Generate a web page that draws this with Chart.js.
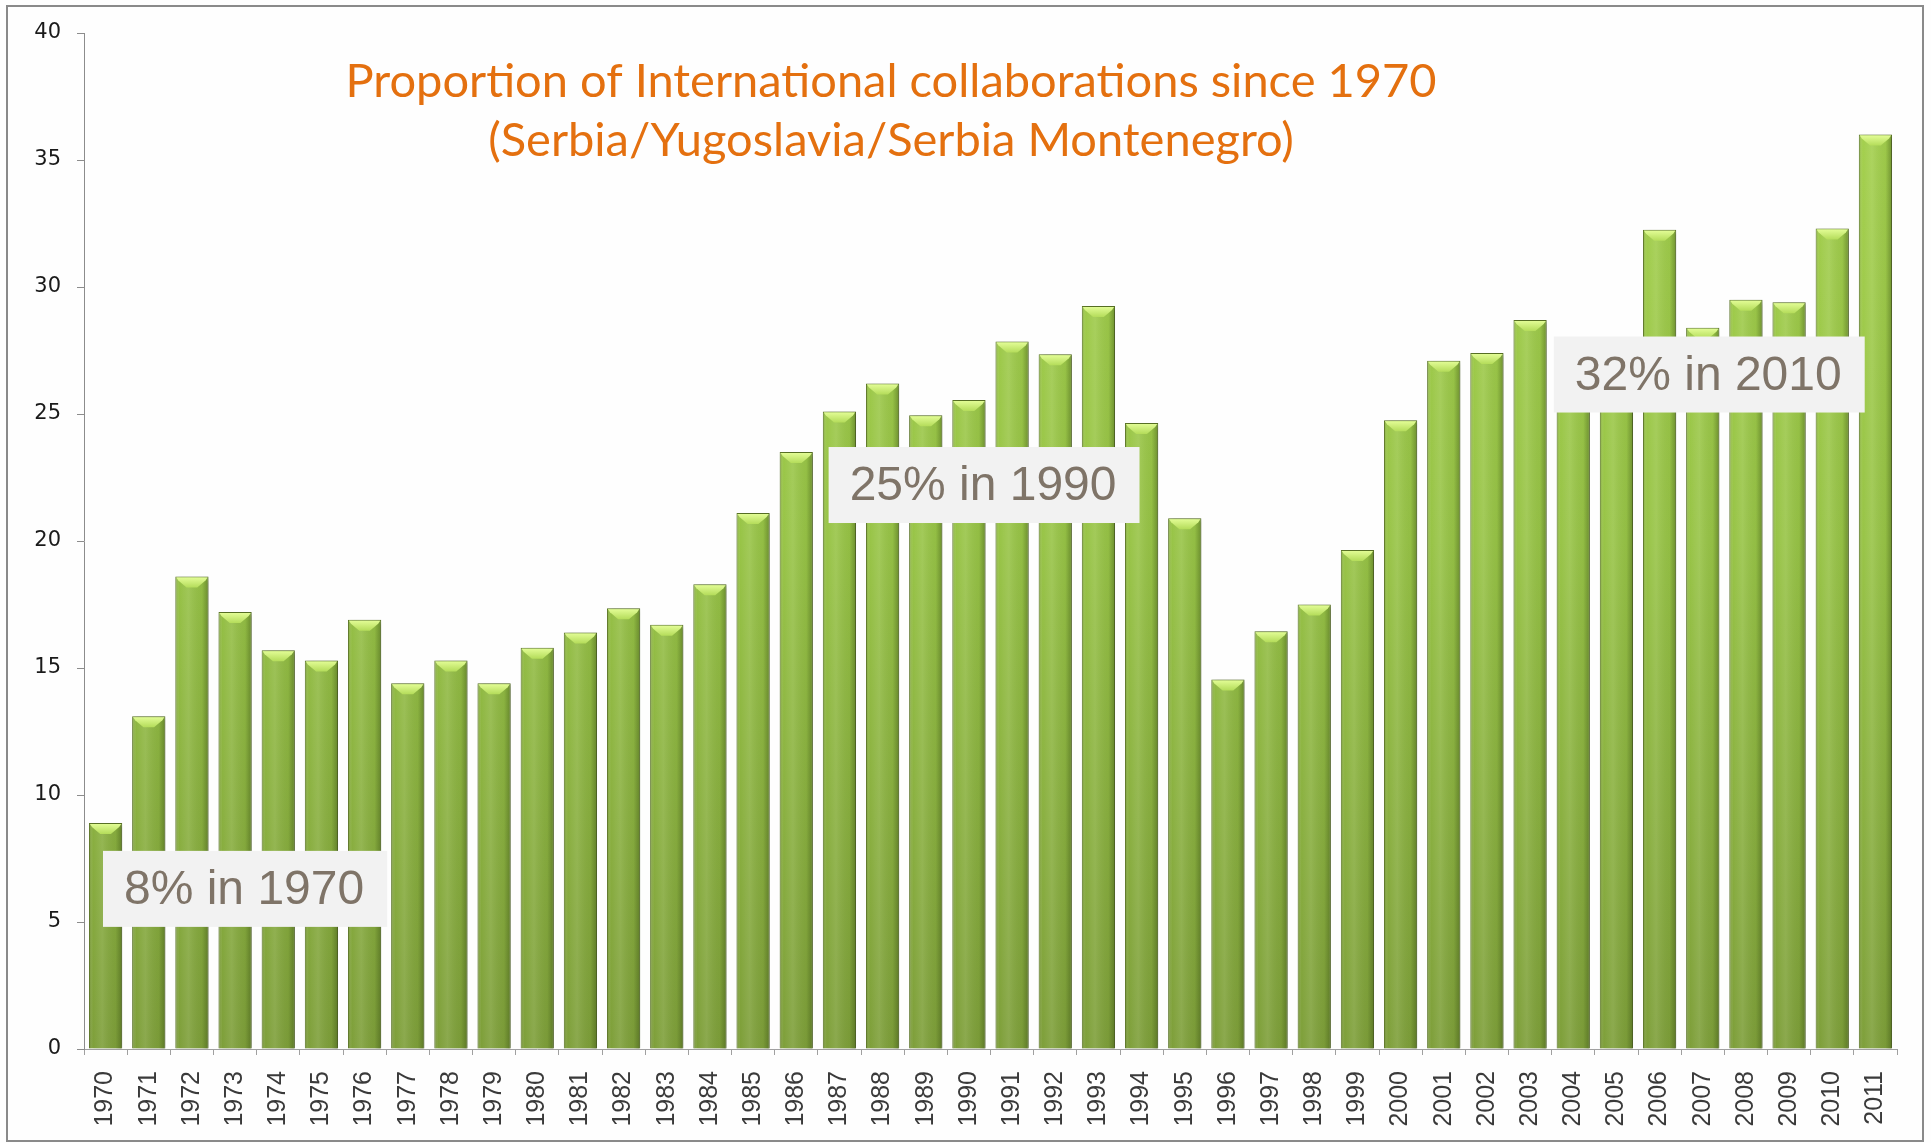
<!DOCTYPE html>
<html>
<head>
<meta charset="utf-8">
<title>Proportion of International collaborations since 1970</title>
<script src="https://cdn.jsdelivr.net/npm/chart.js@4.4.1/dist/chart.umd.min.js"></script>
<style>
  html, body { margin: 0; padding: 0; background: #ffffff; }
  #wrap { width: 1931px; height: 1143px; }
</style>
</head>
<body>
<div id="wrap"><canvas id="collabChart" width="1931" height="1143"></canvas></div>
<script>
// categories: publication years
const years = [
  "1970", "1971", "1972", "1973", "1974", "1975", "1976", "1977", "1978", "1979",
  "1980", "1981", "1982", "1983", "1984", "1985", "1986", "1987", "1988", "1989",
  "1990", "1991", "1992", "1993", "1994", "1995", "1996", "1997", "1998", "1999",
  "2000", "2001", "2002", "2003", "2004", "2005", "2006", "2007", "2008", "2009",
  "2010", "2011"
];

// share of papers with international co-authors (%)
const shares = [
  8.9, 13.1, 18.6, 17.2, 15.7, 15.3, 16.9, 14.4, 15.3, 14.4,
  15.8, 16.4, 17.35, 16.7, 18.3, 21.1, 23.5, 25.1, 26.2, 24.95,
  25.55, 27.85, 27.35, 29.25, 24.65, 20.9, 14.55, 16.45, 17.5, 19.65,
  24.75, 27.1, 27.4, 28.7, 27.5, 27.0, 32.25, 28.4, 29.5, 29.4,
  32.3, 36.0
];

// y axis ticks
const yTicks = [0, 5, 10, 15, 20, 25, 30, 35, 40];

const titleLines = [
  "Proportion of International collaborations since 1970",
  "(Serbia/Yugoslavia/Serbia Montenegro)"
];

// call-out boxes, anchored on the scales (category index of left edge, value of top edge)
const noteTexts = ["8% in 1970", "25% in 1990", "32% in 2010"];
const noteAnchorX = [-0.06, 16.75, 33.55];
const noteAnchorY = [7.8, 23.7, 28.05];

/**
 * Background and outer frame.
 */
const framePlugin = {
  id: "frame",
  beforeDraw(chart) {
    const { ctx, width, height } = chart;
    ctx.save();
    ctx.fillStyle = "#fefefe";
    ctx.fillRect(0, 0, width, height);
    ctx.strokeStyle = "#8a8a8a";
    ctx.lineWidth = 2;
    ctx.strokeRect(7, 6, width - 15, height - 8);
    ctx.restore();
  }
};

/**
 * Soft shadow under the bars, then the cylinder shading and bevelled tops.
 */
const barLookPlugin = {
  id: "barLook",
  beforeDatasetsDraw(chart) {
    const ctx = chart.ctx;
    ctx.save();
    ctx.shadowColor = "rgba(0,0,0,0.28)";
    ctx.shadowBlur = 5;
    ctx.shadowOffsetX = 3;
    ctx.shadowOffsetY = 1;
  },
  afterDatasetsDraw(chart) {
    const ctx = chart.ctx;
    ctx.restore();
    const meta = chart.getDatasetMeta(0);
    meta.data.forEach((bar) => {
      const { x, y, base, width } = bar.getProps(["x", "y", "base", "width"], true);
      const left = x - width / 2;
      const right = x + width / 2;

      // side shading
      const side = ctx.createLinearGradient(left, 0, right, 0);
      side.addColorStop(0, "rgba(60,80,20,0.30)");
      side.addColorStop(0.12, "rgba(255,255,255,0.00)");
      side.addColorStop(0.4, "rgba(255,255,255,0.10)");
      side.addColorStop(0.8, "rgba(40,60,10,0.05)");
      side.addColorStop(1, "rgba(40,60,10,0.40)");
      ctx.fillStyle = side;
      ctx.fillRect(left + 1, y + 1, width - 2, base - y - 1);

      // bevel on top
      const bev = ctx.createLinearGradient(0, y, 0, y + 11);
      bev.addColorStop(0, "#e6ff9a");
      bev.addColorStop(1, "#b4dc5a");
      ctx.fillStyle = bev;
      ctx.beginPath();
      ctx.moveTo(left + 1, y + 1);
      ctx.lineTo(right - 1, y + 1);
      ctx.lineTo(right - 3, y + 4);
      ctx.lineTo(x + width * 0.16, y + 11);
      ctx.lineTo(x - width * 0.16, y + 11);
      ctx.lineTo(left + 3, y + 4);
      ctx.closePath();
      ctx.fill();
    });
  }
};

/**
 * Title text and the grey call-out boxes.
 */
const textPlugin = {
  id: "texts",
  afterDraw(chart) {
    const { ctx, scales } = chart;
    ctx.save();

    // title, fitted to the width of the original first line
    ctx.fillStyle = "#e4700f";
    ctx.textAlign = "center";
    ctx.textBaseline = "alphabetic";
    ctx.font = "100px Lato, 'Open Sans', sans-serif";
    const size = Math.round(100 * 1080 / ctx.measureText(titleLines[0]).width);
    ctx.font = size + "px Lato, 'Open Sans', sans-serif";
    ctx.fillText(titleLines[0], 891, 97);
    ctx.fillText(titleLines[1], 891, 156);

    // call-outs
    ctx.font = "48px 'Liberation Sans', Arial, sans-serif";
    ctx.textAlign = "left";
    ctx.textBaseline = "middle";
    noteTexts.forEach((text, i) => {
      const bx = scales.x.getPixelForValue(noteAnchorX[i]);
      const by = scales.y.getPixelForValue(noteAnchorY[i]);
      const bw = ctx.measureText(text).width + 44;
      const bh = 76;
      ctx.fillStyle = "#f2f2f2";
      ctx.fillRect(bx, by, bw, bh);
      ctx.fillStyle = "#7f7468";
      ctx.fillText(text, bx + 21, by + bh / 2 + 2);
    });
    ctx.restore();
  }
};

const ctx = document.getElementById("collabChart").getContext("2d");

new Chart(ctx, {
  type: "bar",
  data: {
    labels: years,
    datasets: [
      {
        label: "International collaborations (%)",
        data: shares,
        backgroundColor: (context) => {
          const area = context.chart.chartArea;
          if (!area) return "#94bf45";
          const g = context.chart.ctx.createLinearGradient(0, area.top, 0, area.bottom);
          g.addColorStop(0, "#a6d24f");
          g.addColorStop(0.5, "#98c447");
          g.addColorStop(1, "#7e9f3a");
          return g;
        },
        borderColor: "#5c7626",
        borderWidth: 1,
        barPercentage: 0.77,
        categoryPercentage: 1.0
      }
    ]
  },
  options: {
    responsive: false,
    animation: false,
    layout: { padding: { top: 33, right: 34, left: 0, bottom: 0 } },
    plugins: {
      legend: { display: false },
      tooltip: { enabled: false }
    },
    scales: {
      x: {
        afterFit: (scale) => { scale.height = 94; },
        grid: {
          display: true,
          offset: true,
          drawOnChartArea: false,
          drawTicks: true,
          tickLength: 6,
          color: "#a0a0a0"
        },
        border: { display: true, color: "#a0a0a0", width: 1 },
        ticks: {
          minRotation: 90,
          maxRotation: 90,
          autoSkip: false,
          padding: 16,
          color: "#3a3a3a",
          font: { family: "'Liberation Sans', Arial, sans-serif", size: 25 }
        }
      },
      y: {
        min: 0,
        max: 40,
        afterFit: (scale) => { scale.width = 84; },
        afterBuildTicks: (scale) => { scale.ticks = yTicks.map((v) => ({ value: v })); },
        grid: {
          display: true,
          drawOnChartArea: false,
          drawTicks: true,
          tickLength: 7,
          color: "#8c8c8c"
        },
        border: { display: true, color: "#8c8c8c", width: 1 },
        ticks: {
          padding: 16,
          color: "#1a1a1a",
          font: { family: "'DejaVu Sans', sans-serif", size: 21 }
        }
      }
    }
  },
  plugins: [framePlugin, barLookPlugin, textPlugin]
});
</script>
</body>
</html>
